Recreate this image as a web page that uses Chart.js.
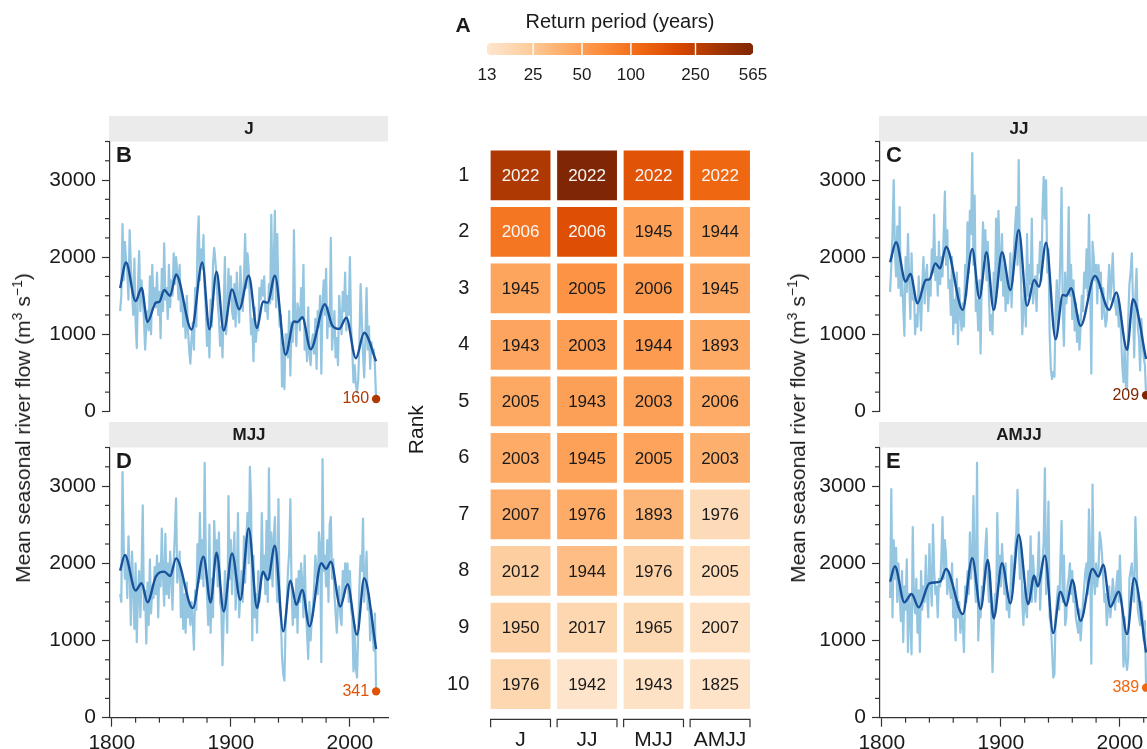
<!DOCTYPE html>
<html><head><meta charset="utf-8">
<script src="https://cdn.jsdelivr.net/npm/chart.js@4.4.1/dist/chart.umd.min.js"></script>
<style>
html,body{margin:0;padding:0;background:#fff;overflow:hidden;}
body{width:1147px;height:749px;position:relative;font-family:"Liberation Sans",Arial,Helvetica,sans-serif;}
canvas{position:absolute;}
.ytitle{position:absolute;font-size:21px;color:#1a1a1a;white-space:nowrap;transform:translate(-50%,-50%) rotate(-90deg);}
.ytitle sup{font-size:14px;line-height:0;}
</style></head><body>
<canvas id="cbar" width="420" height="100" style="left:400px;top:0px"></canvas>
<canvas id="heat" width="370" height="632" style="left:400px;top:117px"></canvas>
<canvas id="pB" width="400" height="320" style="left:0px;top:110px"></canvas>
<canvas id="pD" width="400" height="329" style="left:0px;top:420px"></canvas>
<canvas id="pC" width="400" height="320" style="left:770px;top:110px"></canvas>
<canvas id="pE" width="400" height="329" style="left:770px;top:420px"></canvas>
<div class="ytitle" style="left:23px;top:428px">Mean seasonal river flow (m<sup>3</sup> s<sup>−1</sup>)</div>
<div class="ytitle" style="left:798px;top:428px">Mean seasonal river flow (m<sup>3</sup> s<sup>−1</sup>)</div>
<script>
// ---------------- DATA ----------------
const firstYear = 1807;
const seasons = ['J', 'JJ', 'MJJ', 'AMJJ'];
const ranks = [1, 2, 3, 4, 5, 6, 7, 8, 9, 10];

const flowJ = [
1300,1500,2430,1700,2200,1950,1800,1450,2350,1900,
1550,1250,1980,1150,820,1600,2080,1300,1700,1450,
1200,800,1100,1300,1050,1750,1000,1900,1400,1600,
1350,1800,1250,1550,950,1850,1300,2180,1450,1600,
1200,1900,1350,1700,1500,2050,1650,2000,1800,1450,
1900,1300,1550,1100,1400,950,1500,1050,800,620,
950,1150,800,1600,1100,2200,2530,1700,2100,1850,
2290,1600,1300,850,1200,700,1450,1100,1900,2120,
1950,1750,1400,1200,850,1100,700,1300,2000,1000,
1250,1850,1500,1750,1300,1200,1650,1100,1800,1400,
1150,1880,1500,1300,1700,2300,1600,2050,1850,1400,
1000,1200,650,1350,900,1100,1050,1600,1450,1700,
1500,1750,1300,1400,1200,1650,1400,2550,1450,1900,
2600,1350,2300,1500,1100,1250,320,800,290,1000,
1000,700,1300,465,1150,900,2350,1200,850,1400,
1300,1050,1600,1200,1900,800,1000,650,1350,750,
600,900,1000,750,1200,550,1300,1100,1500,490,
1400,1700,1250,1850,950,1350,1100,2250,800,1050,
1300,700,950,600,1500,1200,1000,1550,1300,1800,
1050,1500,1250,2000,1100,800,375,600,345,250,
410,900,1650,1200,750,440,950,1600,800,1100,
550,900,780,800,600,160];

const flowJJ = [
1550,1900,2300,3000,2100,1750,2400,1600,2650,1500,
1800,1350,980,2000,1550,2300,1700,1200,2050,1450,
1600,1000,1250,1100,1750,1400,1050,1650,2000,1400,
1750,1900,1300,1700,1500,2100,1800,2550,1700,2000,
1500,2200,1650,2000,1750,2300,2850,1900,2350,1600,
1700,1250,2000,1000,1450,1150,1800,870,1600,1300,
1050,1400,1100,1900,1500,2450,1800,2600,2300,3350,
1900,2800,1300,1450,1050,1700,750,1800,2450,2000,
2350,1700,2200,1500,1050,1250,1000,1800,1350,2500,
1600,2600,2000,1700,2300,1500,1900,1300,1750,1400,
1600,2050,1350,1900,2100,2400,2650,1900,3260,2000,
1700,1000,1350,1600,1100,2300,1500,1900,1650,2500,
1400,1600,1750,1300,1900,1800,2200,1700,2600,3040,
2500,3000,1800,2100,1000,545,420,510,450,1300,
1700,1100,1500,2000,2900,1300,850,1800,1400,1600,
2650,1500,1900,1200,1700,1050,1400,900,1250,800,
1100,1500,1300,1800,1600,2100,1500,2550,1700,490,
2200,2000,1700,1900,1400,1900,1600,1800,1200,1600,
1300,1100,1200,1600,1900,1450,1700,2050,1550,1400,
1250,1500,1100,1300,1000,600,380,900,330,280,
1200,1650,1800,2050,1400,700,1500,1850,1100,950,
530,1200,900,700,600,209];

const flowMJJ = [
1600,1500,3180,2250,1800,2100,1550,2350,1900,1200,
2150,1700,1150,2000,980,1600,1900,1300,1850,2750,
1400,1650,960,1750,1200,2050,1350,1700,1550,1950,
1600,2100,1300,2000,1700,2450,1850,1450,2380,1600,
2000,1550,2150,1800,1400,2000,2400,2840,1750,1900,
2150,1300,1850,1150,1600,1100,1750,1300,1500,1200,
1500,1250,880,1650,1400,2250,1750,2650,1800,2300,
1700,3300,2000,1600,1200,2500,1100,1800,1300,2550,
2100,2300,1700,2400,1500,1400,680,1300,1900,1550,
1100,2870,1800,2300,1600,2050,2400,1400,1750,2650,
1300,1600,1900,1500,2350,1750,2300,2650,2000,3250,
2800,1000,2100,1300,1600,1100,1900,1500,1700,2650,
1900,2100,1600,2550,1500,3230,1800,2400,1700,2300,
2600,1900,1500,2830,1400,1300,790,560,480,1200,
1500,1900,2150,2830,1700,1200,1500,1300,1800,1100,
1900,1500,2000,1750,1300,2100,1400,1100,760,1500,
1000,1300,1450,1700,2100,1900,1600,2400,2200,720,
3350,1900,2100,1700,2300,1500,2500,2600,1800,2050,
1600,1350,1100,1500,1700,1300,1200,1900,1600,2000,
1750,2000,1500,1900,1400,1300,600,1200,640,520,
1100,1700,2100,1900,2580,1500,1800,2150,1400,1600,
1000,1400,1150,870,1350,341];

const flowAMJJ = [
1550,2960,1300,2300,1800,2200,1500,2000,1600,1250,
1900,980,1700,1400,2050,850,1600,1300,820,2470,
1500,1350,1800,1100,1650,850,1900,1400,1700,1500,
2100,1600,1300,2250,1750,1450,2500,1900,1600,1700,
1300,1800,1700,2050,2600,1800,2300,2100,1600,1900,
1700,1550,2000,1300,1600,1000,1800,1300,1500,1100,
1350,1200,850,1700,1500,1900,1600,2400,1800,2100,
2870,1800,1500,3300,1000,1400,1300,1700,1600,1900,
2200,2450,1800,1500,1900,1300,590,1200,1600,1400,
2650,1800,2100,1700,2250,1900,1600,2000,1400,1500,
1300,1600,2100,1700,1900,2200,2400,2950,2300,1800,
2200,1500,1200,1700,1400,1300,1900,1600,2350,1500,
2100,1800,1500,1700,1900,2400,1400,1800,2000,2300,
3230,1600,2000,2800,1300,1200,900,520,560,1300,
1500,1700,1400,2000,2550,1500,2100,1200,1300,1700,
1800,2000,1600,1900,1500,1700,1300,1200,1100,1400,
1000,1250,1500,1700,1900,2000,1600,2700,2100,700,
3020,1800,1600,2000,1700,1900,2400,2300,2100,1800,
1500,1600,1200,1400,1700,1300,1500,1800,1600,1400,
1700,1900,1500,2100,1600,1400,660,1300,740,620,
780,1800,1900,2000,1700,1500,2600,2100,1400,1300,
1200,1500,1300,1000,1250,389];

// smoothed curves (read at their turning points)
const smoothYearsJ = [1807,1812,1820,1825,1830,1837,1840,1844,1849,1854,1867,1876,1882,1888,1894,1901,1907,1915,1922,1927,1931,1937,1946,1953,1956,1960,1967,1979,1985,1991,1997,2005,2012,2022];
const smoothJ      = [1600,1930,1430,1600,1160,1410,1420,1575,1500,1775,1060,1930,1065,1810,1050,1580,1325,1760,1080,1425,1410,1760,735,1165,1160,1220,805,1390,1120,1070,1215,690,1020,650];
const smoothYearsJJ = [1807,1812,1820,1824,1830,1837,1840,1845,1849,1854,1868,1876,1882,1888,1894,1901,1908,1915,1922,1928,1932,1938,1946,1952,1955,1959,1967,1979,1991,1997,2006,2011,2022];
const smoothJJ      = [1934,2193,1683,1782,1403,1705,1713,1920,1856,2136,1316,2106,1467,2063,1316,2063,1575,2352,1368,1705,1618,2188,937,1510,1500,1597,1109,1757,1316,1541,798,1455,680];
const smoothYearsMJJ = [1807,1811,1820,1825,1830,1837,1844,1849,1854,1868,1877,1883,1888,1894,1901,1908,1915,1922,1927,1931,1937,1944,1950,1955,1960,1966,1976,1980,1984,1992,1998,2006,2012,2022];
const smoothMJJ      = [1905,2107,1647,1741,1496,1827,1892,1836,2064,1419,2085,1492,2137,1376,2129,1527,2451,1419,1892,1785,2227,1118,1776,1462,1656,1183,2000,1926,2021,1441,1729,1075,1806,890];
const smoothYearsAMJJ = [1807,1811,1819,1825,1831,1840,1849,1854,1868,1876,1883,1889,1894,1901,1908,1915,1923,1928,1931,1937,1944,1950,1955,1960,1967,1977,1982,1986,1992,1999,2006,2012,2022];
const smoothAMJJ      = [1762,1961,1494,1602,1429,1741,1762,1927,1342,2065,1407,2044,1286,2000,1481,2369,1472,1840,1702,2100,1095,1632,1450,1784,1256,1927,1827,1983,1437,1632,1082,1806,844];

// ranking of driest years and their return periods (years)
const rankYearsJ    = [2022,2006,1945,1943,2005,2003,2007,2012,1950,1976];
const rankYearsJJ   = [2022,2006,2005,2003,1943,1945,1976,1944,2017,1942];
const rankYearsMJJ  = [2022,1945,2006,1944,2003,2005,1893,1976,1965,1943];
const rankYearsAMJJ = [2022,1944,1945,1893,2006,2003,1976,2005,2007,1825];
const returnJ    = [300,92,45,44,42,40,38,23,21,19];
const returnJJ   = [565,173,59,50,48,47,40,30,19,13.5];
const returnMJJ  = [162,49,54,52,48,46,34,21,18,14.5];
const returnAMJJ = [115,45,42,41,40,37,17,16,15,14];

// axis ticks
const returnTicks = [13,25,50,100,250,565];
const yTicks = [0,250,500,750,1000,1250,1500,1750,2000,2250,2500,2750,3000,3250,3500];
const yLabelTicks = [0,1000,2000,3000];
const xTicks = [1800,1820,1840,1860,1880,1900,1920,1940,1960,1980,2000,2020];
const xLabelTicks = [1800,1900,2000];

// ---------------- STYLE / HELPERS ----------------
const FONT = '"Liberation Sans", Arial, Helvetica, sans-serif';
Chart.defaults.font.family = FONT;
Chart.defaults.color = '#1a1a1a';
const palette = ['#FEE6CE','#FDD0A2','#FDAE6B','#FD8D3C','#F16913','#D94801','#A63603','#7F2704'];
const rpMin = returnTicks[0], rpMax = returnTicks[returnTicks.length - 1];
function hexRgb(h){ return [parseInt(h.slice(1,3),16), parseInt(h.slice(3,5),16), parseInt(h.slice(5,7),16)]; }
function rpColor(rp){
  let t = (Math.log(rp) - Math.log(rpMin)) / (Math.log(rpMax) - Math.log(rpMin));
  t = Math.max(0, Math.min(1, t));
  const s = t * (palette.length - 1);
  const i = Math.min(Math.floor(s), palette.length - 2);
  const f = s - i;
  const a = hexRgb(palette[i]), b = hexRgb(palette[i+1]);
  return 'rgb(' + a.map((v,k) => Math.round(v + (b[k]-v)*f)).join(',') + ')';
}
const AXIS = '#333333';

// ---------------- COLOUR BAR (A) ----------------
const cbarPlugin = {
  id: 'cbarDeco',
  afterDatasetsDraw(chart){
    const {ctx, chartArea: a} = chart;
    const x = chart.scales.x;
    ctx.save();
    ctx.strokeStyle = '#ffffff'; ctx.lineWidth = 1.4;
    returnTicks.slice(1, -1).forEach(v => {
      const px = x.getPixelForValue(v);
      ctx.beginPath(); ctx.moveTo(px, a.top); ctx.lineTo(px, a.bottom); ctx.stroke();
    });
    ctx.fillStyle = '#1a1a1a';
    ctx.textAlign = 'center'; ctx.textBaseline = 'middle';
    ctx.font = '20px ' + FONT;
    ctx.fillText('Return period (years)', (a.left + a.right) / 2, 22);
    ctx.font = 'bold 21px ' + FONT;
    ctx.fillText('A', 63, 26);
    ctx.restore();
  }
};
new Chart(document.getElementById('cbar'), {
  type: 'bar',
  data: { labels: ['rp'], datasets: [{
    data: [[rpMin, rpMax]],
    backgroundColor: (c) => {
      const chart = c.chart;
      if (!chart.chartArea) return palette[0];
      const x = chart.scales.x;
      const g = chart.ctx.createLinearGradient(x.getPixelForValue(rpMin), 0, x.getPixelForValue(rpMax), 0);
      palette.forEach((col, i) => g.addColorStop(i / (palette.length - 1), col));
      return g;
    },
    borderWidth: 0, borderSkipped: false, borderRadius: 5,
    barPercentage: 1, categoryPercentage: 1
  }]},
  options: {
    indexAxis: 'y', responsive: false, animation: false,
    layout: { padding: { left: 87, right: 67, top: 43, bottom: 15 } },
    plugins: { legend: { display: false }, tooltip: { enabled: false } },
    scales: {
      x: { type: 'logarithmic', min: rpMin, max: rpMax,
           afterBuildTicks: s => { s.ticks = returnTicks.map(v => ({ value: v })); },
           ticks: { font: { size: 17 }, padding: 10, autoSkip: false, maxRotation: 0, callback: v => String(v) },
           grid: { display: false, drawTicks: false }, border: { display: false },
           afterFit: s => { s.height = 30; } },
      y: { display: false }
    }
  },
  plugins: [cbarPlugin]
});

// ---------------- HEATMAP (ranks) ----------------
const rankYearTable = [rankYearsJ, rankYearsJJ, rankYearsMJJ, rankYearsAMJJ];
const returnTable = [returnJ, returnJJ, returnMJJ, returnAMJJ];
const heatPlugin = {
  id: 'heatDeco',
  afterDatasetsDraw(chart){
    const ctx = chart.ctx;
    ctx.save();
    ctx.font = '17px ' + FONT;
    ctx.textAlign = 'center'; ctx.textBaseline = 'middle';
    chart.data.datasets.forEach((ds, ri) => {
      chart.getDatasetMeta(ri).data.forEach((el, si) => {
        const rp = returnTable[si][ri];
        ctx.fillStyle = rp > 80 ? '#f7f7f7' : '#1a1a1a';
        ctx.fillText(String(rankYearTable[si][ri]), el.x, (el.y + el.base) / 2 + 1);
      });
    });
    // bracket axis below each column
    const a = chart.chartArea;
    const y0 = a.bottom + 7;
    ctx.strokeStyle = AXIS; ctx.lineWidth = 1.2;
    chart.getDatasetMeta(0).data.forEach(el => {
      const l = el.x - el.width / 2, r = el.x + el.width / 2;
      ctx.beginPath();
      ctx.moveTo(l, y0 + 8); ctx.lineTo(l, y0); ctx.lineTo(r, y0); ctx.lineTo(r, y0 + 8);
      ctx.stroke();
    });
    ctx.restore();
  }
};
new Chart(document.getElementById('heat'), {
  type: 'bar',
  data: {
    labels: seasons,
    datasets: ranks.map((r, ri) => ({
      data: seasons.map(() => [r - 0.44, r + 0.44]),
      backgroundColor: seasons.map((s, si) => rpColor(returnTable[si][ri])),
      borderWidth: 0, grouped: false, barPercentage: 0.9, categoryPercentage: 1
    }))
  },
  options: {
    responsive: false, animation: false,
    layout: { padding: { left: 0, right: 16.7, top: 0, bottom: 0 } },
    plugins: { legend: { display: false }, tooltip: { enabled: false } },
    scales: {
      x: { type: 'category', offset: true, grid: { display: false, drawTicks: false }, border: { display: false },
           ticks: { font: { size: 21 }, padding: 15, autoSkip: false, maxRotation: 0 },
           afterFit: s => { s.height = 36.7; } },
      y: { type: 'linear', reverse: true, min: 0.5, max: 10.5,
           afterBuildTicks: s => { s.ticks = ranks.map(v => ({ value: v })); },
           ticks: { font: { size: 20 }, padding: 18, autoSkip: false },
           grid: { display: false, drawTicks: false }, border: { display: false },
           title: { display: true, text: 'Rank', font: { size: 21 }, padding: { top: 5, bottom: 0 } },
           afterFit: s => { s.width = 87.3; } }
    }
  },
  plugins: [heatPlugin]
});

// ---------------- TIME-SERIES PANELS ----------------
const panelPlugin = {
  id: 'panel',
  afterDraw(chart, args, o){
    const {ctx, chartArea: a} = chart;
    ctx.save();
    // facet strip
    ctx.fillStyle = '#EBEBEB';
    ctx.fillRect(a.left - 1, a.top - 25.5, a.right - a.left + 1, 25.5);
    ctx.fillStyle = '#1a1a1a';
    ctx.font = 'bold 17px ' + FONT;
    ctx.textAlign = 'center'; ctx.textBaseline = 'middle';
    ctx.fillText(o.strip, (a.left + a.right) / 2, a.top - 12.5);
    // panel letter
    ctx.font = 'bold 22px ' + FONT;
    ctx.textAlign = 'left'; ctx.textBaseline = 'top';
    ctx.fillText(o.letter, a.left + 6, a.top + 3);
    // minor ticks
    ctx.strokeStyle = AXIS; ctx.lineWidth = 1.2;
    const ys = chart.scales.y;
    yTicks.forEach(v => {
      if (yLabelTicks.includes(v)) return;
      const py = ys.getPixelForValue(v);
      ctx.beginPath(); ctx.moveTo(a.left - 5, py); ctx.lineTo(a.left, py); ctx.stroke();
    });
    if (o.showX) {
      const xs = chart.scales.x;
      xTicks.forEach(v => {
        if (xLabelTicks.includes(v)) return;
        const px = xs.getPixelForValue(v);
        ctx.beginPath(); ctx.moveTo(px, a.bottom); ctx.lineTo(px, a.bottom + 5); ctx.stroke();
      });
    }
    // label of the last (2022) value
    const pt = chart.getDatasetMeta(0).data[0];
    const val = chart.data.datasets[0].data[0].y;
    ctx.fillStyle = o.endColor;
    ctx.font = '16px ' + FONT;
    ctx.textAlign = 'right'; ctx.textBaseline = 'middle';
    ctx.fillText(String(val), pt.x - 7, pt.y);
    ctx.restore();
  }
};

function makePanel(id, letter, strip, flow, sYears, sVals, endRP, showX){
  const rawPts = flow.map((v, i) => ({ x: firstYear + i, y: v }));
  const smoothPts = sYears.map((yr, i) => ({ x: yr, y: sVals[i] }));
  const last = { x: firstYear + flow.length - 1, y: flow[flow.length - 1] };
  const endColor = rpColor(endRP);
  return new Chart(document.getElementById(id), {
    type: 'line',
    data: { datasets: [
      { data: [last], showLine: false, pointRadius: 4.2, pointBackgroundColor: endColor, pointBorderWidth: 0, order: 1 },
      { data: smoothPts, borderColor: '#17529A', borderWidth: 2.4, pointRadius: 0, cubicInterpolationMode: 'monotone', fill: false, order: 2 },
      { data: rawPts, borderColor: '#94C6E2', borderWidth: 2.2, pointRadius: 0, tension: 0, borderJoinStyle: 'round', fill: false, order: 3 }
    ]},
    options: {
      responsive: false, animation: false,
      layout: { padding: { left: 0, right: 12, top: showX ? 27.5 : 31.5, bottom: 0 } },
      plugins: { legend: { display: false }, tooltip: { enabled: false }, panel: { letter, strip, endColor, showX } },
      scales: {
        x: { type: 'linear', min: 1798.5, max: 2032, display: showX,
             afterBuildTicks: s => { s.ticks = xTicks.map(v => ({ value: v })); },
             ticks: { font: { size: 21 }, padding: 4, autoSkip: false, maxRotation: 0,
                      callback: v => xLabelTicks.includes(v) ? String(v) : '' },
             grid: { drawOnChartArea: false, tickLength: 9, tickWidth: 1.2,
                     tickColor: c => (c.tick && xLabelTicks.includes(c.tick.value)) ? AXIS : 'rgba(0,0,0,0)' },
             border: { display: true, color: AXIS, width: 1.2 },
             afterFit: s => { if (showX) s.height = 31.3; } },
        y: { type: 'linear', min: 0, max: 3500,
             afterBuildTicks: s => { s.ticks = yTicks.map(v => ({ value: v })); },
             ticks: { font: { size: 21 }, padding: 6, autoSkip: false,
                      callback: v => yLabelTicks.includes(v) ? String(v) : '' },
             grid: { drawOnChartArea: false, tickLength: 8, tickWidth: 1.2,
                     tickColor: c => (c.tick && yLabelTicks.includes(c.tick.value)) ? AXIS : 'rgba(0,0,0,0)' },
             border: { display: true, color: AXIS, width: 1.2 },
             afterFit: s => { s.width = 110; } }
      }
    },
    plugins: [panelPlugin]
  });
}

makePanel('pB', 'B', 'J', flowJ, smoothYearsJ, smoothJ, returnJ[0], false);
makePanel('pC', 'C', 'JJ', flowJJ, smoothYearsJJ, smoothJJ, returnJJ[0], false);
makePanel('pD', 'D', 'MJJ', flowMJJ, smoothYearsMJJ, smoothMJJ, returnMJJ[0], true);
makePanel('pE', 'E', 'AMJJ', flowAMJJ, smoothYearsAMJJ, smoothAMJJ, returnAMJJ[0], true);
</script>
</body></html>
